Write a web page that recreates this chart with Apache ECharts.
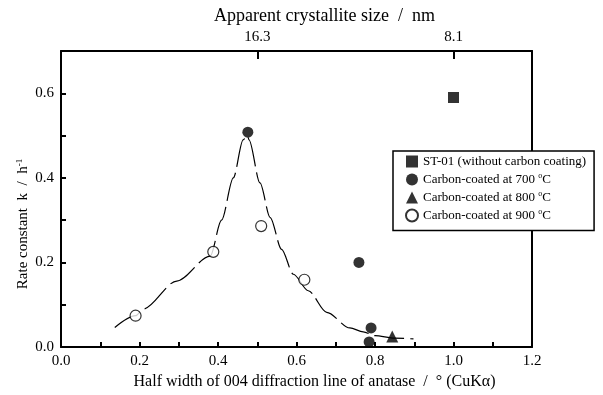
<!DOCTYPE html>
<html>
<head>
<meta charset="utf-8">
<script src="https://cdn.jsdelivr.net/npm/echarts@6/dist/echarts.min.js"></script>
<style>html,body{margin:0;padding:0;background:#fff}#c{width:603px;height:395px}</style>
</head>
<body>
<div id="c"></div>
<script>
// Data
const st01X = [1.0];
const st01K = [0.59];
const c700X = [0.476, 0.759, 0.79, 0.785];
const c700K = [0.508, 0.200, 0.045, 0.012];
const c800X = [0.844];
const c800K = [0.025];
const c900X = [0.19, 0.388, 0.51, 0.62];
const c900K = [0.074, 0.225, 0.286, 0.159];
// guide curve
const curveX = [0.137, 0.19, 0.21, 0.295, 0.38, 0.409, 0.439, 0.464, 0.475, 0.479, 0.507, 0.533, 0.562, 0.592, 0.63, 0.677, 0.736, 0.77, 0.80, 0.85, 0.898];
const curveK = [0.046, 0.074, 0.09, 0.156, 0.215, 0.30, 0.40, 0.49, 0.50, 0.49, 0.388, 0.306, 0.231, 0.172, 0.133, 0.082, 0.045, 0.036, 0.027, 0.021, 0.019];
const topTickValues = [0.5, 1.0];
const topTickLabels = ['16.3', '8.1'];
const legendNames = ['ST-01 (without carbon coating)', 'Carbon-coated at 700 oC', 'Carbon-coated at 800 oC', 'Carbon-coated at 900 oC'];

const zip = (xs, ys) => xs.map((x, i) => [x, ys[i]]);
const FONT = 'Liberation Serif';
const chart = echarts.init(document.getElementById('c'), null, {renderer: 'canvas'});
const axisLine = {show: true, onZero: false, lineStyle: {color: '#000', width: 2}};
chart.setOption({
  animation: false,
  backgroundColor: '#fff',
  textStyle: {fontFamily: FONT, color: '#000'},
  grid: {left: 61, right: 71, top: 51, bottom: 47, show: false},
  legend: {
    orient: 'vertical', left: 393, top: 151,
    data: legendNames,
    backgroundColor: '#fff', borderColor: '#000', borderWidth: 1.5, borderRadius: 0,
    padding: [4, 8, 8, 12], itemGap: 4, itemWidth: 12, itemHeight: 12,
    formatter: function (n) {
      const m = n.match(/^(.*) oC$/);
      if (m) return '{t|' + m[1] + ' }{s|o}{t|C}';
      return '{t|' + n + '}';
    },
    textStyle: {fontFamily: FONT, color: '#000', fontSize: 13,
      rich: {t: {fontFamily: FONT, fontSize: 13, color: '#000'},
             s: {fontFamily: FONT, fontSize: 8, color: '#000', padding: [0, 0, 7, 0]}}}
  },
  xAxis: [{
    type: 'value', min: 0, max: 1.2, interval: 0.1, position: 'bottom',
    axisLine: axisLine,
    axisTick: {show: true, inside: true, length: 5, lineStyle: {color: '#000', width: 2}},
    splitLine: {show: false},
    axisLabel: {fontFamily: FONT, fontSize: 15, color: '#000', margin: 7,
      formatter: v => (Math.round(v * 10) % 2 === 0 ? v.toFixed(1) : '')},
    name: 'Half width of 004 diffraction line of anatase  /  \u00b0 (CuK\u03b1)',
    nameLocation: 'middle', nameGap: 27,
    nameTextStyle: {fontFamily: FONT, fontSize: 16, color: '#000', padding: [0, 0, 0, 36]}
  }, {
    type: 'value', min: 0, max: 1.2, interval: 0.5, position: 'top',
    axisLine: axisLine,
    axisTick: {show: true, inside: true, length: 8, lineStyle: {color: '#000', width: 2},
      interval: function (i, v) { return topTickValues.indexOf(v) >= 0; }},
    splitLine: {show: false},
    axisLabel: {fontFamily: FONT, fontSize: 15, color: '#000', margin: 6,
      formatter: v => { const i = topTickValues.findIndex(t => Math.abs(t - v) < 1e-6); return i >= 0 ? topTickLabels[i] : ''; }},
    name: 'Apparent crystallite size  /  nm',
    nameLocation: 'middle', nameGap: 24,
    nameTextStyle: {fontFamily: FONT, fontSize: 18, color: '#000', padding: [0, 0, 0, 56]}
  }],
  yAxis: [{
    type: 'value', min: 0, max: 0.7, interval: 0.1, position: 'left',
    axisLine: axisLine,
    axisTick: {show: true, inside: true, length: 5, lineStyle: {color: '#000', width: 2}},
    splitLine: {show: false},
    axisLabel: {fontFamily: FONT, fontSize: 15, color: '#000', margin: 7,
      formatter: v => (Math.round(v * 10) % 2 === 0 ? v.toFixed(1) : '')},
    name: '{t|Rate constant  k  /  h}{s|-1}',
    nameLocation: 'middle', nameGap: 30, nameMoveOverlap: false,
    nameTextStyle: {fontFamily: FONT, fontSize: 15, color: '#000', padding: [0, 50, 0, 0],
      rich: {t: {fontFamily: FONT, fontSize: 15, color: '#000'},
             s: {fontFamily: FONT, fontSize: 9, color: '#000', padding: [0, 0, 7, 0]}}}
  }, {
    type: 'value', min: 0, max: 0.7, position: 'right',
    axisLine: axisLine, axisTick: {show: false}, axisLabel: {show: false}, splitLine: {show: false}
  }],
  series: [
    {name: 'curve', type: 'line', data: zip(curveX, curveK), showSymbol: false, symbol: 'none',
     smooth: 0.3, smoothMonotone: 'x', z: 1,
     lineStyle: {color: '#000', width: 1.2, type: [30, 6]}},
    {name: legendNames[0], type: 'scatter', data: zip(st01X, st01K), symbol: 'rect', symbolSize: 11, z: 3,
     itemStyle: {color: '#000'}},
    {name: legendNames[1], type: 'scatter', data: zip(c700X, c700K), symbol: 'circle', symbolSize: 11, z: 3,
     itemStyle: {color: '#000'}},
    {name: legendNames[2], type: 'scatter', data: zip(c800X, c800K), symbol: 'triangle', symbolSize: 12, z: 3,
     itemStyle: {color: '#000'}},
    {name: legendNames[3], type: 'scatter', data: zip(c900X, c900K), symbol: 'circle', symbolSize: 11, z: 3,
     itemStyle: {color: '#fff', borderColor: '#000', borderWidth: 1.2}}
  ]
});
</script>
</body>
</html>
